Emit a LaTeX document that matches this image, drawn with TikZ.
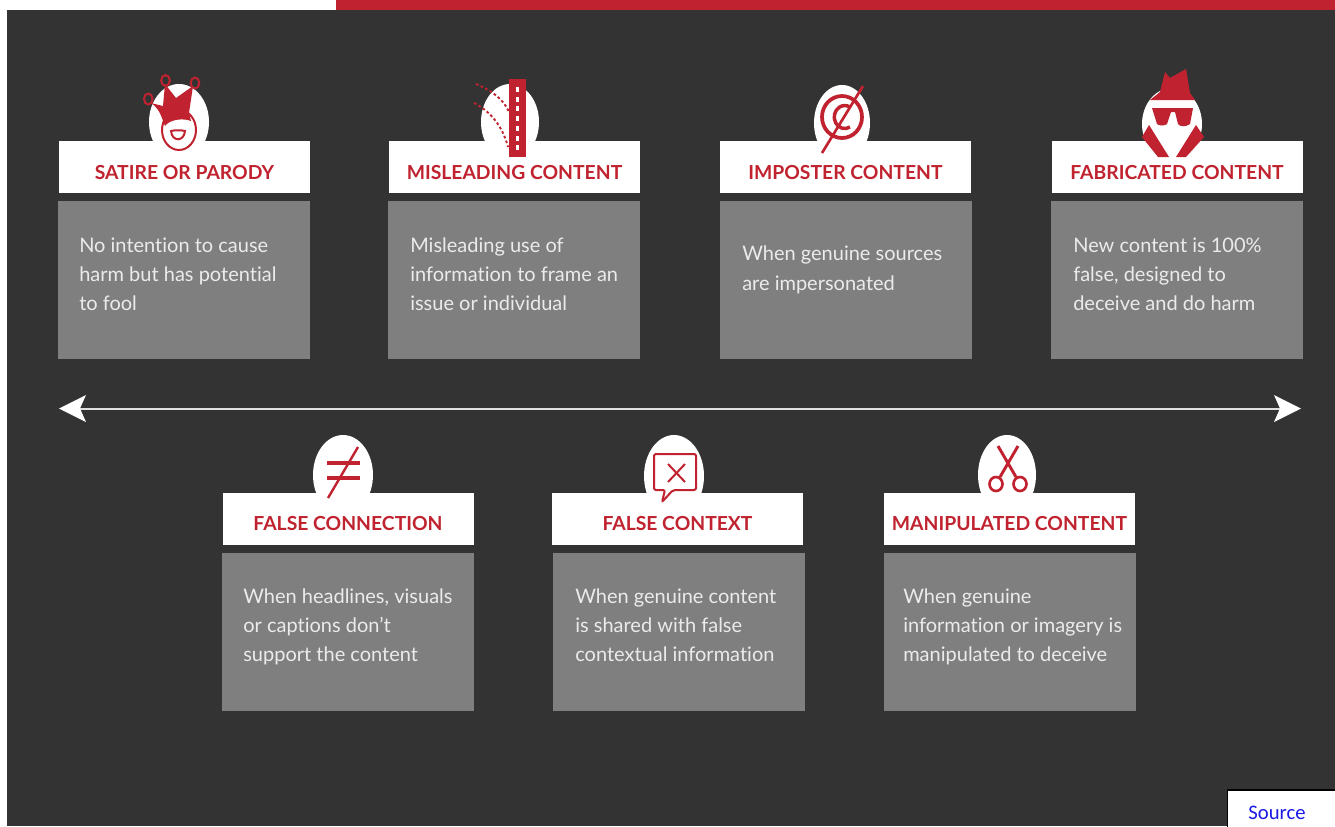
\documentclass[tikz,border=0pt]{standalone}
\usepackage{fontspec}
\setmainfont[Ligatures=NoCommon]{Lato}
\newfontfamily\srcfont{Carlito}
\definecolor{bgdark}{HTML}{333333}
\definecolor{redc}{HTML}{C0232F}
\definecolor{greyc}{HTML}{7F7F7F}
\definecolor{srcblue}{HTML}{1A1AE6}
\tikzset{
 x=0.75pt,y=-0.75pt,
 headbox/.style={fill=white,draw=none,minimum width=188.25pt,minimum height=39pt,inner sep=0pt,text=redc,text height=18pt,text depth=0pt,font=\fontsize{14.5}{16}\selectfont\bfseries},
 bodybox/.style={fill=greyc,draw=none,minimum width=189pt,minimum height=118.5pt,inner sep=0pt},
 bodytext/.style={text=white!92!black,align=left,anchor=west,inner sep=0pt,font=\fontsize{15}{22}\selectfont},
 blob/.style={fill=white,draw=none},
 redline/.style={draw=redc,line width=1.5pt},
 reddash/.style={draw=redc,line width=1.4pt,dash pattern=on 2pt off 1.8pt},
 arrowline/.style={draw=white!88!black,line width=1.6pt},
}
\newcommand{\tl}[1]{\strut #1}
\begin{document}
\begin{tikzpicture}
\useasboundingbox (0,0) rectangle (1335,826);
\fill[white] (0,0) rectangle (1335,826);
\fill[bgdark] (7,10) rectangle (1335,826);
\fill[redc] (336,0) rectangle (1335,10);
% blobs
\fill[blob] (179,122) ellipse (30 and 38);
\fill[blob] (510,122) ellipse (29 and 38);
\fill[blob] (842,123) ellipse (28 and 38);
\fill[blob] (1172,124) ellipse (30 and 36);
\fill[blob] (343,475) ellipse (30 and 40);
\fill[blob] (674,476) ellipse (30 and 41);
\fill[blob] (1007,475) ellipse (29 and 40);
% head and body boxes
\foreach \n/\cx/\cy/\t in {a/184.5/167/SATIRE OR PARODY,b/514.5/167/MISLEADING CONTENT,c/845.5/167/IMPOSTER CONTENT,d/1177/167/FABRICATED CONTENT,e/348/518.5/FALSE CONNECTION,f/677.5/518.5/FALSE CONTEXT,g/1009.5/518.5/MANIPULATED CONTENT}
  \node[headbox] (head\n) at (\cx,\cy) {\t};
\node[bodybox] (bodya) at (184,280) {};
\node[bodybox] (bodyb) at (514,280) {};
\node[bodybox] (bodyc) at (845.5,280) {};
\node[bodybox] (bodyd) at (1177,280) {};
\node[bodybox] (bodye) at (348,631.5) {};
\node[bodybox] (bodyf) at (678.5,631.5) {};
\node[bodybox] (bodyg) at (1010,631.5) {};
\node[bodytext] (ta) at (79,275.5) {\tl{No intention to cause}\\\tl{harm but has potential}\\\tl{to fool}};
\node[bodytext] (tb) at (410,275.5) {\tl{Misleading use of}\\\tl{information to frame an}\\\tl{issue or individual}};
\node[bodytext] (tc) at (742,269.5) {\tl{When genuine sources}\\\tl{are impersonated}};
\node[bodytext] (td) at (1073,275.5) {\tl{New content is 100\%}\\\tl{false, designed to}\\\tl{deceive and do harm}};
\node[bodytext] (te) at (243,626.5) {\tl{When headlines, visuals}\\\tl{or captions don't}\\\tl{support the content}};
\node[bodytext] (tf) at (575,626.5) {\tl{When genuine content}\\\tl{is shared with false}\\\tl{contextual information}};
\node[bodytext] (tg) at (903,626.5) {\tl{When genuine}\\\tl{information or imagery is}\\\tl{manipulated to deceive}};
% arrow
\coordinate (arrL) at (78,409);
\coordinate (arrR) at (1283,409);
\draw[arrowline] (arrL) -- (arrR);
\fill[white] (59,408.5) -- (86,395) -- (80,408.5) -- (86,422) -- cycle;
\fill[white] (1301,408.5) -- (1274,395) -- (1280,408.5) -- (1274,422) -- cycle;
% jester
\draw[redline] (179,130) ellipse (17 and 20);
\foreach \bx/\by in {148.3/99,165.5/80.5,195/83}
  \draw[redline] (\bx,\by) ellipse (4.3 and 5.5);
\fill[redc] (151,103) -- (163,106) -- (165,84) -- (176,98) -- (193,86) -- (189,113) -- (191,121)
  .. controls (184,118) and (170,119) .. (165,126) -- (162,118) .. controls (160,112) and (156,106) .. (151,103) -- cycle;
\draw[redline] (171,131) .. controls (175,130) and (181,130) .. (185,131) .. controls (184,142) and (172,142) .. (171,131) -- cycle;
% misleading
\fill[redc] (509,79) rectangle (526,157);
\foreach \k in {0,...,6}
  \fill[white] (516,87+9.7*\k) rectangle (519,92+9.7*\k);
\draw[reddash] (476,84) .. controls (490,90) and (503,98) .. (509,112);
\draw[reddash] (474,103) .. controls (492,112) and (503,128) .. (508,147);
% imposter
\draw[draw=redc,line width=2.8pt] (842,117) ellipse (20 and 21);
\draw[draw=redc,line width=2.6pt] (850,127) arc (60:300:10.5 and 11.5);
\draw[draw=redc,line width=2pt] (863,86) -- (822,153);
% fabricated
\fill[redc] (1165,72) -- (1170,78) -- (1186,69) -- (1190,93) -- (1195,100) -- (1150,100) -- (1160,92) -- cycle;
\fill[redc] (1152,108) -- (1193,108) -- (1190,124) .. controls (1186,127) and (1180,127) .. (1178,124) -- (1175,112) -- (1171,112) -- (1167,124) .. controls (1165,126) and (1159,126) .. (1157,124) -- cycle;
\fill[redc] (1149,125) -- (1169,157) -- (1158,157) -- (1142,137) -- cycle;
\fill[redc] (1196,125) -- (1204,137) -- (1186,157) -- (1176,157) -- cycle;
% false connection
\draw[draw=redc,line width=2.3pt] (327,463) -- (360,463);
\draw[draw=redc,line width=2.3pt] (327,478) -- (360,478);
\draw[draw=redc,line width=1.8pt] (358,447) -- (328,498);
% false context
\draw[redline,rounded corners=1.5pt] (665,490) -- (654,490) -- (654,454) -- (696,454) -- (696,490) -- (673,490) -- (662,502) -- cycle;
\draw[draw=redc,line width=1.5pt] (668,464) -- (685,482);
\draw[draw=redc,line width=1.5pt] (685,464) -- (668,482);
% scissors
\draw[draw=redc,line width=2.2pt] (998,446) -- (1016,477);
\draw[draw=redc,line width=2.2pt] (1018,446) -- (1000,477);
\draw[redline,line width=2pt] (996,484) ellipse (6.5 and 7);
\draw[redline,line width=2pt] (1020,484) ellipse (6.5 and 7);
% source
\fill[white] (1227.5,790) rectangle (1335,826);
\draw[black,line width=1.4pt] (1227.5,827) -- (1227.5,790) -- (1336,790);
\node[inner sep=0pt,text=srcblue,font=\srcfont\fontsize{15.5}{17}\selectfont] (src) at (1277,813) {Source};
\end{tikzpicture}
\end{document}
